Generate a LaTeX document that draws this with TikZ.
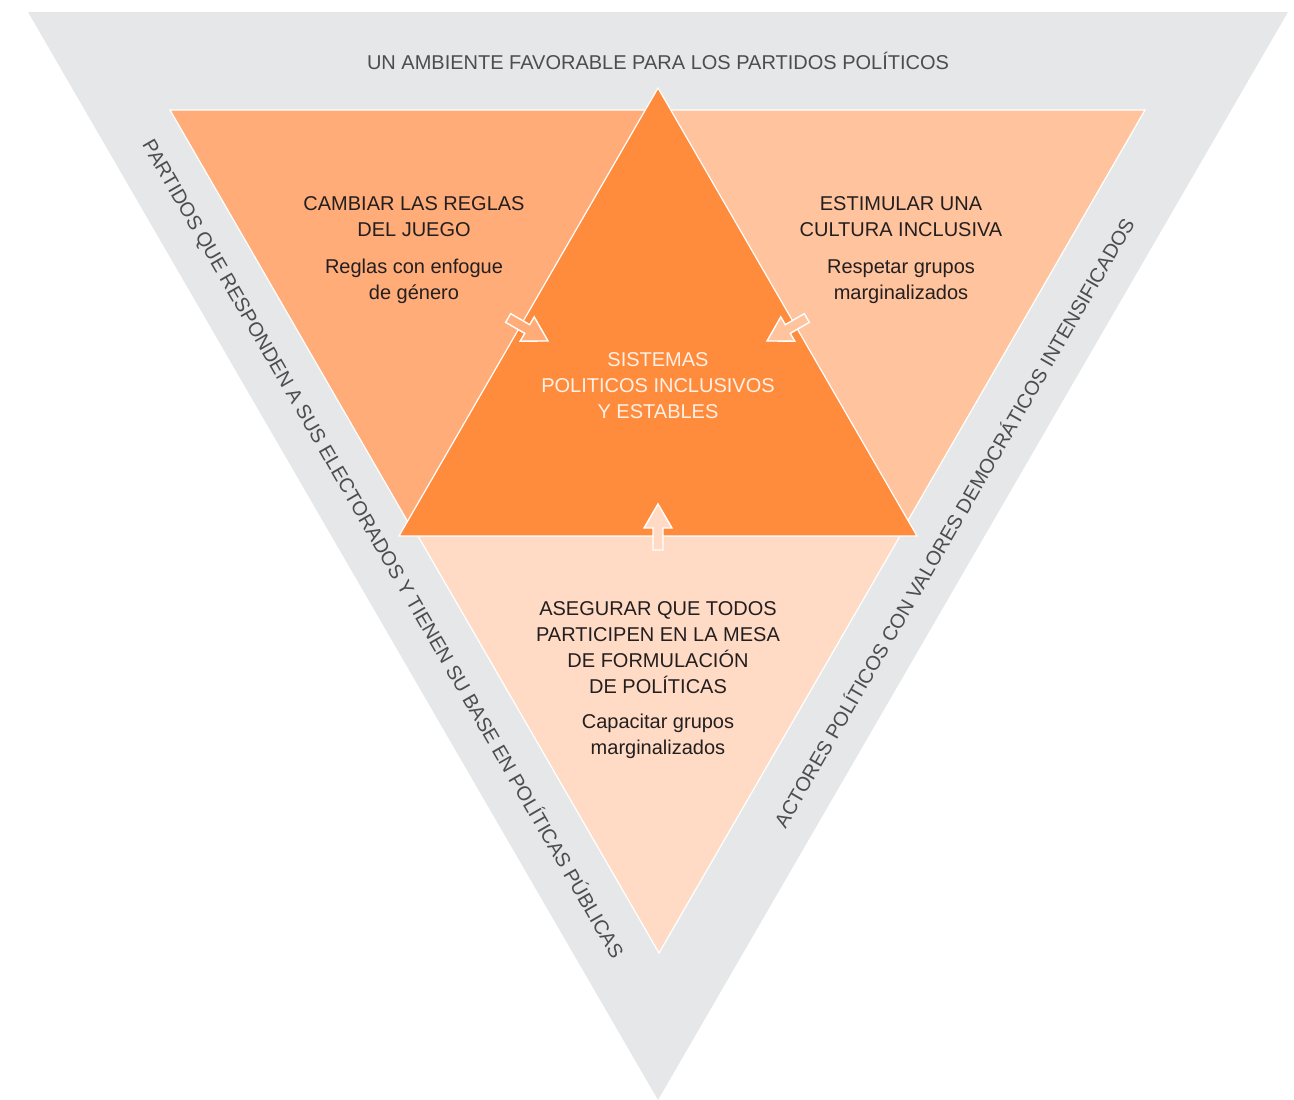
\documentclass[tikz,border=0pt]{standalone}
\usepackage{fontspec}
\setmainfont{Liberation Sans}
\definecolor{bggray}{HTML}{E6E7E8}
\definecolor{cleft}{HTML}{FFAC78}
\definecolor{cright}{HTML}{FFC39D}
\definecolor{cbottom}{HTML}{FFDBC5}
\definecolor{ccenter}{HTML}{FF8B3D}
\definecolor{txtdark}{HTML}{231F20}
\definecolor{txtgray}{HTML}{4D4D4F}
\definecolor{txtlight}{HTML}{FFF1E6}
\begin{document}
\begin{tikzpicture}[x=1pt,y=-1pt,
  tri/.style={draw=white, line width=1.2pt, line join=miter},
  blk/.style={align=center, inner sep=0pt, anchor=north, font=\fontsize{20}{26}\selectfont, text=txtdark},
  sidelbl/.style={inner sep=0pt, font=\fontsize{20}{24}\selectfont, text=txtgray},
  arr/.style={draw=white, line width=1.4pt, line join=miter}]
\useasboundingbox (0,0) rectangle (1294,1100);
% outer band
\fill[bggray] (28,12) -- (1288,12) -- (658,1100) -- cycle;
% sector triangles
\filldraw[tri, fill=cleft] (170,110) -- (662,110) -- (416,536) -- cycle;
\filldraw[tri, fill=cright] (653,110) -- (1145,110) -- (899,536) -- cycle;
\filldraw[tri, fill=cbottom] (418,536) -- (900,536) -- (659,953) -- cycle;
\filldraw[tri, fill=ccenter] (658,88) -- (917,536) -- (399,536) -- cycle;
% arrows
\begin{scope}[shift={(548,341)}, rotate=-30]
  \filldraw[arr, fill=cleft] (0,0) -- (-24,14) -- (-24,5) -- (-46,5) -- (-46,-5) -- (-24,-5) -- (-24,-14) -- cycle;
\end{scope}
\begin{scope}[shift={(767,341)}, rotate=210]
  \filldraw[arr, fill=cright] (0,0) -- (-24,14) -- (-24,5) -- (-46,5) -- (-46,-5) -- (-24,-5) -- (-24,-14) -- cycle;
\end{scope}
\begin{scope}[shift={(658,504)}, rotate=90]
  \filldraw[arr, fill=cbottom] (0,0) -- (-24,14) -- (-24,5) -- (-46,5) -- (-46,-5) -- (-24,-5) -- (-24,-14) -- cycle;
\end{scope}
% texts
\node[blk, text=txtgray] (title) at (658,52) {UN AMBIENTE FAVORABLE PARA LOS PARTIDOS POLÍTICOS};
\node[blk] (lefttxt) at (414,196) {CAMBIAR LAS REGLAS\\DEL JUEGO\\[11pt]Reglas con enfogue\\de género};
\node[blk] (righttxt) at (901,196) {ESTIMULAR UNA\\CULTURA INCLUSIVA\\[11pt]Respetar grupos\\marginalizados};
\node[blk, text=txtlight] (centertxt) at (658,352) {SISTEMAS\\POLITICOS INCLUSIVOS\\Y ESTABLES};
\node[blk] (bottomtxt) at (658,601) {ASEGURAR QUE TODOS\\PARTICIPEN EN LA MESA\\DE FORMULACIÓN\\DE POLÍTICAS\\[9pt]Capacitar grupos\\marginalizados};
\node[sidelbl, rotate=-60] (leftside) at (383,549) {PARTIDOS QUE RESPONDEN A SUS ELECTORADOS Y TIENEN SU BASE EN POLÍTICAS PÚBLICAS};
\node[sidelbl, rotate=60] (rightside) at (953,522) {ACTORES POLÍTICOS CON VALORES DEMOCRÁTICOS INTENSIFICADOS};
\end{tikzpicture}
\end{document}
